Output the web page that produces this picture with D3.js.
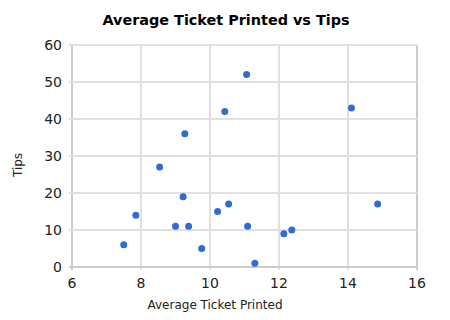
<!DOCTYPE html>
<html><head><meta charset="utf-8">
<script src="https://cdn.jsdelivr.net/npm/d3@7"></script>
<style>body{margin:0;background:#fff}svg{display:block}</style>
</head><body>
<script>
const ticketX = [11.06,10.43,9.27,8.54,9.22,7.85,10.54,10.22,9.0,9.38,11.09,7.5,9.76,11.3,12.14,12.37,14.1,14.86];
const tipsY   = [52,42,36,27,19,14,17,15,11,11,11,6,5,1,9,10,43,17];
const xTicks = [6,8,10,12,14,16];
const yTicks = [0,10,20,30,40,50,60];
const title = "Average Ticket Printed vs Tips";
const xTitle = "Average Ticket Printed";
const yTitle = "Tips";

const W=450,H=320;
const svg=d3.select("body").append("svg").attr("width",W).attr("height",H);
const x=d3.scaleLinear().domain([6,16]).range([72,417]);
const y=d3.scaleLinear().domain([0,60]).range([267,45]);
const font="DejaVu Sans";

// gridlines
const g=svg.append("g");
g.selectAll("line.v").data(xTicks).join("line")
  .attr("x1",d=>x(d)).attr("x2",d=>x(d)).attr("y1",y(60)).attr("y2",y(0)+3)
  .attr("stroke",d=>(d===6||d===16)?"#cccccc":"#e0e0e0").attr("stroke-width",2);
g.selectAll("line.h").data(yTicks).join("line")
  .attr("y1",d=>y(d)).attr("y2",d=>y(d)).attr("x1",x(6)-3).attr("x2",x(16))
  .attr("stroke",d=>(d===0)?"#cccccc":"#e0e0e0").attr("stroke-width",2);

// tick labels
svg.selectAll("text.xt").data(xTicks).join("text")
  .attr("x",d=>x(d)).attr("y",288).attr("text-anchor","middle")
  .attr("font-family",font).attr("font-size",14).attr("fill","#222").text(d=>d);
svg.selectAll("text.yt").data(yTicks).join("text")
  .attr("x",62).attr("y",d=>y(d)+5).attr("text-anchor","end")
  .attr("font-family",font).attr("font-size",14).attr("fill","#222").text(d=>d);

// points
svg.selectAll("circle").data(ticketX.map((v,i)=>[v,tipsY[i]])).join("circle")
  .attr("cx",d=>x(d[0])).attr("cy",d=>y(d[1])).attr("r",3.5).attr("fill","#346bd2");

// titles
svg.append("text").attr("x",226).attr("y",25).attr("text-anchor","middle")
  .attr("font-family",font).attr("font-weight","bold").attr("font-size",14.4).attr("fill","#000").text(title);
svg.append("text").attr("x",215).attr("y",309).attr("text-anchor","middle")
  .attr("font-family",font).attr("font-size",12).attr("fill","#222").text(xTitle);
svg.append("text").attr("transform","translate(22,165) rotate(-90)").attr("text-anchor","middle")
  .attr("font-family",font).attr("font-size",12).attr("fill","#222").text(yTitle);
</script>
</body></html>
